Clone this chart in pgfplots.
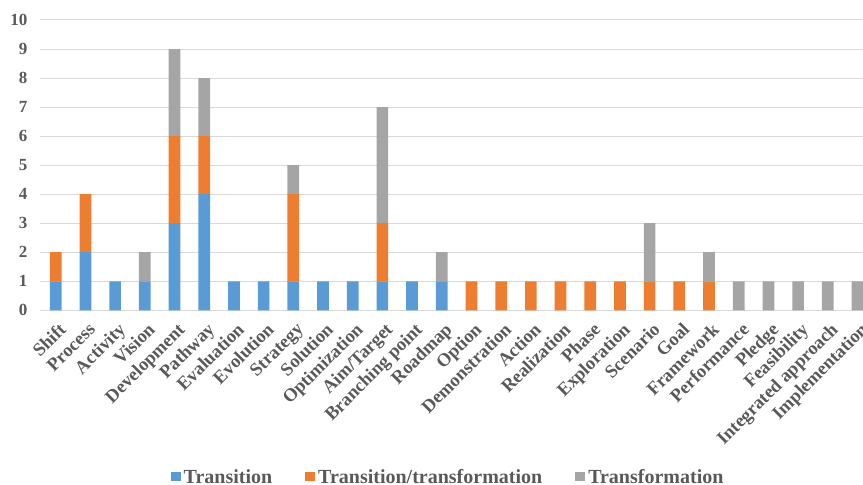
\documentclass[border=0pt]{standalone}
\usepackage{fontspec}
\setmainfont{Liberation Serif}
\usepackage{pgfplots}
\usepackage{pgfplotstable}
\pgfplotsset{compat=1.18}

\definecolor{cBlue}{HTML}{5B9BD5}
\definecolor{cOrange}{HTML}{ED7D31}
\definecolor{cGrey}{HTML}{A5A5A5}
\definecolor{cText}{HTML}{595959}
\definecolor{cGrid}{HTML}{D9D9D9}

% counts per term: transition, transition/transformation, transformation
\pgfplotstableread{
x  T  TT Tr
0  1  1  0
1  2  2  0
2  1  0  0
3  1  0  1
4  3  3  3
5  4  2  2
6  1  0  0
7  1  0  0
8  1  3  1
9  1  0  0
10 1  0  0
11 1  2  4
12 1  0  0
13 1  0  1
14 0  1  0
15 0  1  0
16 0  1  0
17 0  1  0
18 0  1  0
19 0  1  0
20 0  1  2
21 0  1  0
22 0  1  1
23 0  0  1
24 0  0  1
25 0  0  1
26 0  0  1
27 0  0  1
}\termdata

\begin{document}
\begin{tikzpicture}[x=1pt,y=1pt]
\path[use as bounding box] (0,0) rectangle (863,485);
\begin{axis}[
  at={(40pt,174.7pt)}, anchor=south west,
  scale only axis,
  width=823pt, height=290.3pt,
  ybar stacked,
  bar width=11.7pt,
  xmin=-0.53, xmax=27.185,
  ymin=0, ymax=10,
  ytick={0,1,...,10},
  xtick={0,1,...,27},
  xticklabels={Shift,Process,Activity,Vision,Development,Pathway,Evaluation,Evolution,Strategy,Solution,Optimization,Aim/Target,Branching point,Roadmap,Option,Demonstration,Action,Realization,Phase,Exploration,Scenario,Goal,Framework,Performance,Pledge,Feasibility,Integrated approach,Implementation},
  major tick length=0pt,
  axis x line*=bottom,
  axis y line*=left,
  y axis line style={draw=none},
  x axis line style={draw=cGrid, line width=1.6pt},
  ymajorgrids,
  grid style={draw=cGrid, line width=1pt},
  /pgf/number format/assume math mode=true,
  yticklabel style={font=\fontsize{17}{17}\selectfont\bfseries, text=cText, xshift=-9pt},
  xticklabel style={font=\fontsize{18.5}{18.5}\selectfont\bfseries, text=cText, rotate=45, anchor=north east, xshift=-3pt, yshift=-6pt},
  legend columns=3,
  legend style={
    draw=none, fill=none,
    at={(0.4964,-0.574)}, anchor=center,
    font=\fontsize{20}{20}\selectfont\bfseries, text=cText,
    nodes={inner xsep=3pt, inner ysep=2pt},
    /tikz/every even column/.append style={column sep=30pt},
  },
  legend image code/.code={\fill[#1] (0pt,-4.5pt) rectangle (10pt,5pt);},
]
\addplot[fill=cBlue, draw=none] table[x=x, y=T] {\termdata};
\addlegendentry{Transition}
\addplot[fill=cOrange, draw=none] table[x=x, y=TT] {\termdata};
\addlegendentry{Transition/transformation}
\addplot[fill=cGrey, draw=none] table[x=x, y=Tr] {\termdata};
\addlegendentry{Transformation}
\end{axis}
\end{tikzpicture}
\end{document}
